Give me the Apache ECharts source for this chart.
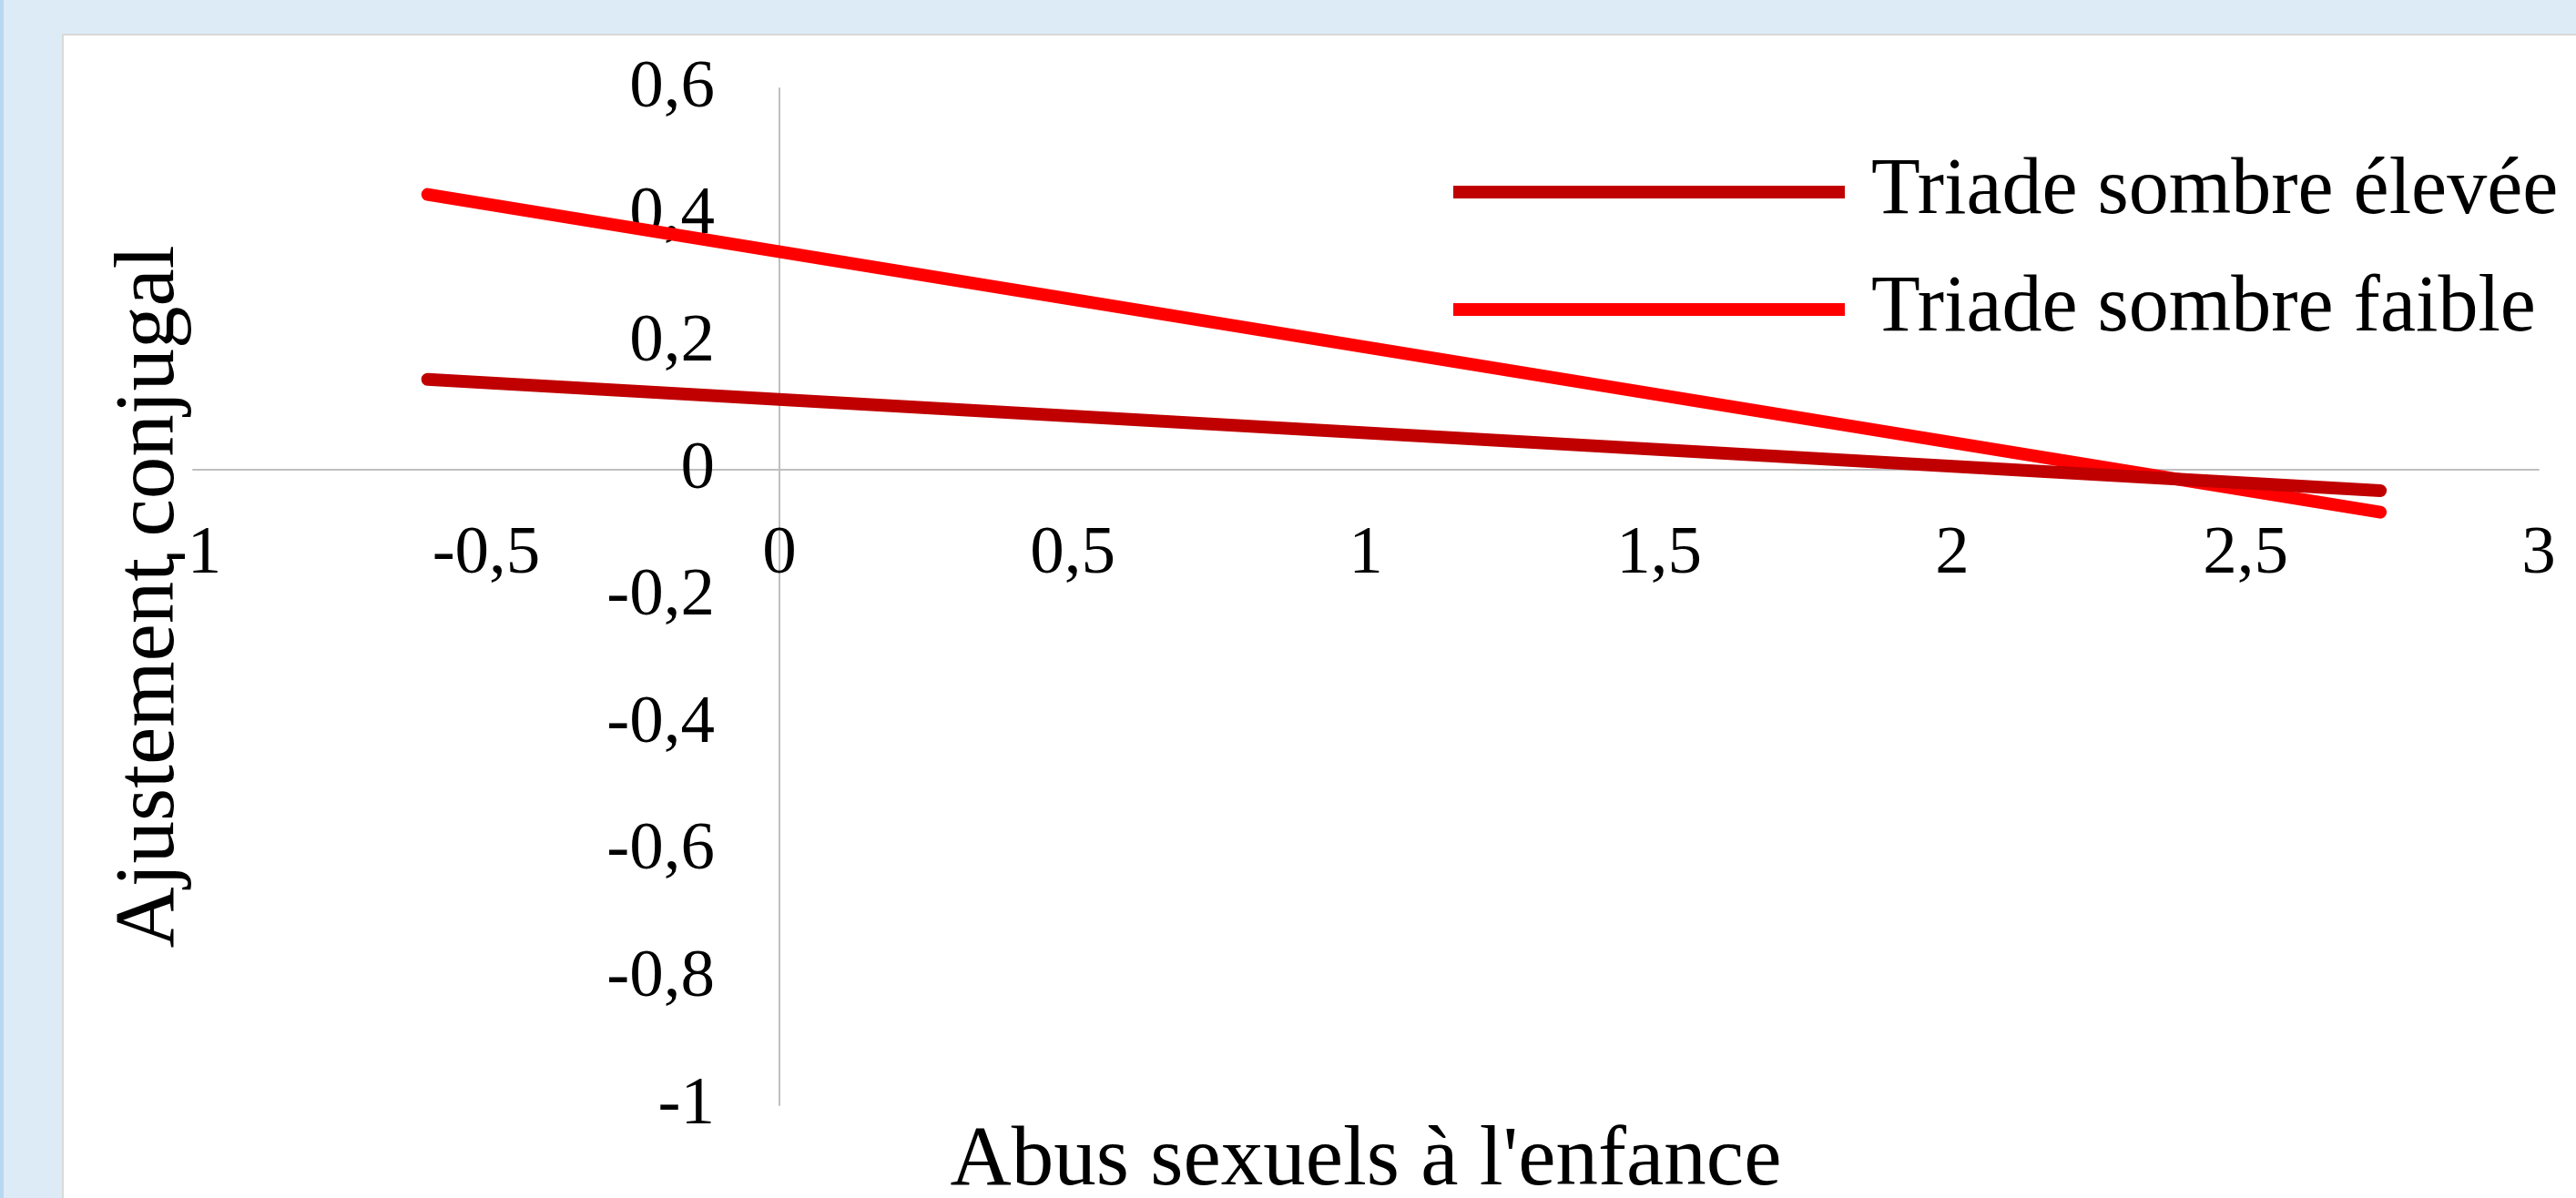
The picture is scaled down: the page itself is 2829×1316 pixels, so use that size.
<!DOCTYPE html>
<html>
<head>
    <meta charset="UTF-8">
    <title>Ajustement conjugal</title>
    <script type="text/javascript" src="https://cdn.jsdelivr.net/npm/echarts@6/dist/echarts.min.js"></script>
    <style>
        html, body { margin: 0; padding: 0; }
        body { background: #DDEBF7; width: 2829px; height: 1316px; overflow: hidden; position: relative; }
        #strip { position: absolute; left: 0; top: 0; width: 4px; height: 1316px; background: #B8D7F1; }
        #panel { position: absolute; left: 68px; top: 37px; width: 2800px; height: 1300px; background: #fff; border: 2px solid #D9D9D9; }
        #main { position: absolute; left: 0; top: 0; width: 2829px; height: 1316px; }
    </style>
</head>
<body>
<div id="strip"></div>
<div id="panel"></div>
<div id="main"></div>
<script type="text/javascript">
    // valeurs
    var xPoints = [-0.6, 2.73];
    var triadeElevee = [0.142, -0.033];
    var triadeFaible = [0.433, -0.067];
    var seriesNames = ['Triade sombre élevée', 'Triade sombre faible'];
    var xTitle = "Abus sexuels à l'enfance";
    var yTitle = 'Ajustement conjugal';

    var font = 'Liberation Serif';

    function pairs(xs, ys) {
        var out = [];
        for (var i = 0; i < xs.length; i++) {
            out.push([xs[i], ys[i]]);
        }
        return out;
    }

    function virgule(v) {
        return String(Math.round(v * 10) / 10).replace('.', ',');
    }

    var myChart = echarts.init(document.getElementById('main'), null, {renderer: 'canvas'});

    // les axes se croisent en (0, 0) : on les déplace avec offset
    var option = {
        animation: false,
        backgroundColor: 'transparent',
        grid: {left: 212, right: 41, top: 97, bottom: 102, containLabel: false, outerBoundsMode: 'none'},
        legend: {
            // le trait de la légende n'est pas centré sur le texte (comme dans Excel)
            data: [
                {name: seriesNames[0], textStyle: {padding: [32, 0, 0, 24]}},
                {name: seriesNames[1], textStyle: {padding: [0, 0, 36, 24]}}
            ],
            orient: 'vertical',
            left: 1596,
            top: 151,
            padding: 0,
            itemGap: 7,
            icon: 'rect',
            itemWidth: 430,
            itemHeight: 14,
            textStyle: {
                fontFamily: font,
                fontSize: 88,
                lineHeight: 88,
                color: '#000'
            }
        },
        xAxis: {
            type: 'value',
            min: -1,
            max: 3,
            interval: 0.5,
            offset: -698,
            name: xTitle,
            nameLocation: 'middle',
            nameGap: 714,
            nameTextStyle: {fontFamily: font, fontSize: 93, color: '#000'},
            axisLine: {show: true, onZero: false, lineStyle: {color: '#BFBFBF', width: 2}},
            axisTick: {show: false},
            splitLine: {show: false},
            axisLabel: {
                fontFamily: font,
                fontSize: 75,
                color: '#000',
                margin: 56,
                formatter: virgule
            }
        },
        yAxis: {
            type: 'value',
            min: -1,
            max: 0.6,
            interval: 0.2,
            offset: -644,
            name: yTitle,
            nameLocation: 'middle',
            nameRotate: 90,
            nameGap: 644,
            nameTextStyle: {fontFamily: font, fontSize: 93, color: '#000'},
            axisLine: {show: true, onZero: false, lineStyle: {color: '#BFBFBF', width: 2}},
            axisTick: {show: false},
            splitLine: {show: false},
            axisLabel: {
                fontFamily: font,
                fontSize: 75,
                color: '#000',
                margin: 71,
                formatter: virgule
            }
        },
        series: [
            {
                name: seriesNames[1],
                type: 'line',
                data: pairs(xPoints, triadeFaible),
                showSymbol: false,
                color: '#FF0000',
                lineStyle: {width: 14, color: '#FF0000', cap: 'round'},
                z: 2
            },
            {
                name: seriesNames[0],
                type: 'line',
                data: pairs(xPoints, triadeElevee),
                showSymbol: false,
                color: '#C00000',
                lineStyle: {width: 14, color: '#C00000', cap: 'round'},
                z: 3
            }
        ]
    };

    myChart.setOption(option);
</script>
</body>
</html>
